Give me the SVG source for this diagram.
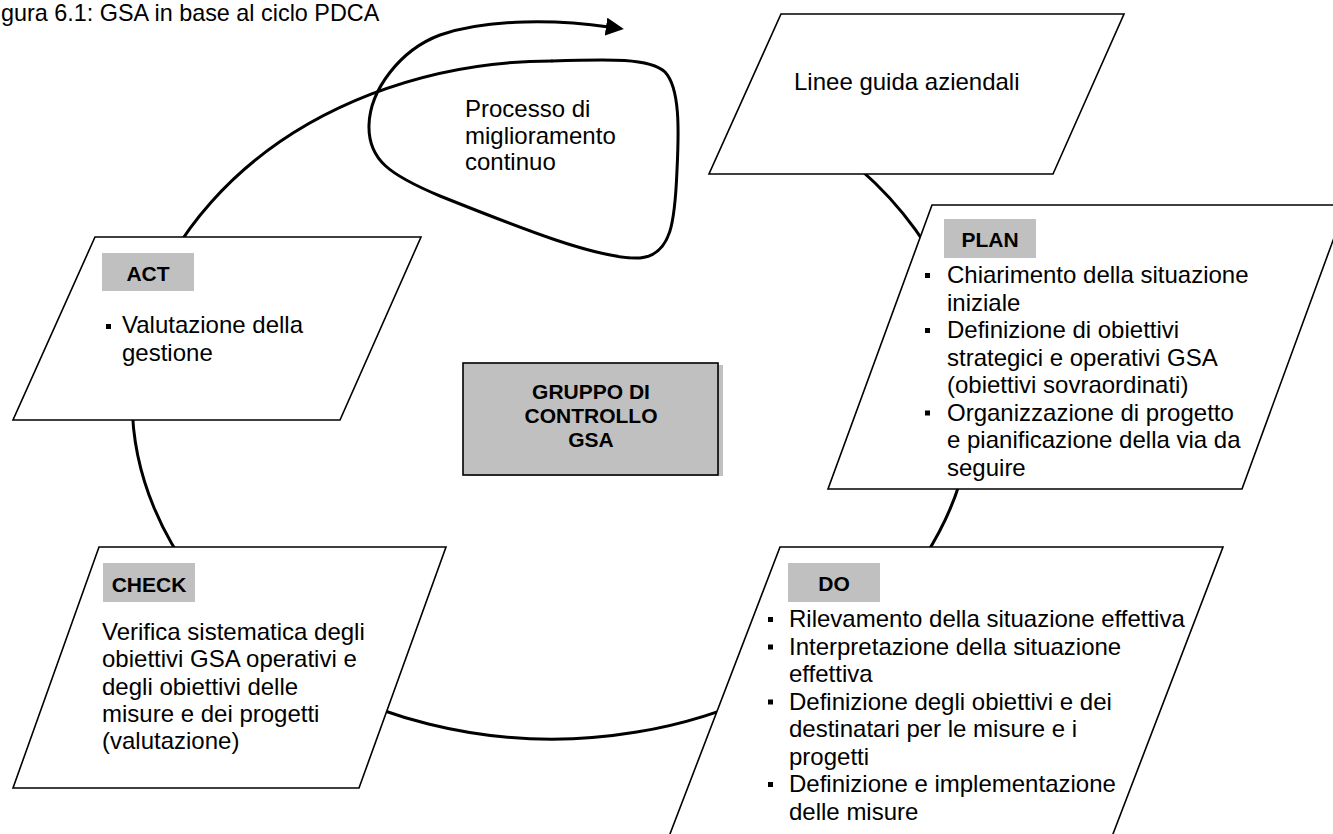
<svg xmlns="http://www.w3.org/2000/svg" width="1333" height="834" viewBox="0 0 1333 834">
<style>
.box{fill:#fff;stroke:#000;stroke-width:1.6;stroke-linejoin:miter}
.lab{fill:#c0c0c0;stroke:none}
.lt{font-family:"Liberation Sans",Arial,sans-serif;font-weight:bold;font-size:21px;fill:#000;text-anchor:middle}
.bt{font-family:"Liberation Sans",Arial,sans-serif;font-size:24px;fill:#000}
.bul{fill:#000}
.con{fill:none;stroke:#000;stroke-width:3;stroke-linecap:round}
</style>
<defs>
<marker id="ah" markerWidth="6" markerHeight="6" refX="1" refY="3" orient="auto" markerUnits="strokeWidth">
<path d="M0,0 L6,3 L0,6 Z" fill="#000"/>
</marker>
</defs>
<rect width="1333" height="834" fill="#fff"/>
<text x="1" y="21" font-family="Liberation Sans, Arial, sans-serif" font-size="23.4" fill="#000">gura 6.1: GSA in base al ciclo PDCA</text>

<g id="connectors">
<path class="con" d="M789,120 A420,339 0 1 1 552,61"/>
<path class="con" marker-end="url(#ah)" d="M552,61 C610,59 650,58 665,72 C680,88 679,130 677,170 C675,220 672,255 640,258 C600,260 520,228 440,196 C390,175 368,160 369,125 C370,90 400,50 440,35 C490,18 560,20 609,27"/>
</g>

<g id="loop-label">
<text class="bt" font-size="23.5" x="465" y="117">Processo di</text>
<text class="bt" font-size="23.5" x="465" y="144">miglioramento</text>
<text class="bt" font-size="23.5" x="465" y="170">continuo</text>
</g>

<g id="linee">
<polygon class="box" points="781,14 1124,14 1053,174 709,174"/>
<text class="bt" x="794" y="90">Linee guida aziendali</text>
</g>

<g id="plan">
<polygon class="box" points="932,205 1346,205 1242,489 828,489"/>
<rect class="lab" x="944" y="219" width="92" height="39"/>
<text class="lt" x="990" y="247">PLAN</text>
<rect class="bul" x="925" y="273" width="5" height="5"/>
<rect class="bul" x="925" y="328" width="5" height="5"/>
<rect class="bul" x="925" y="410.5" width="5" height="5"/>
<text class="bt" x="947" y="283">Chiarimento della situazione</text>
<text class="bt" x="947" y="310.5">iniziale</text>
<text class="bt" x="947" y="338">Definizione di obiettivi</text>
<text class="bt" x="947" y="365.5">strategici e operativi GSA</text>
<text class="bt" x="947" y="393">(obiettivi sovraordinati)</text>
<text class="bt" x="947" y="420.5">Organizzazione di progetto</text>
<text class="bt" x="947" y="448">e pianificazione della via da</text>
<text class="bt" x="947" y="475.5">seguire</text>
</g>

<g id="act">
<polygon class="box" points="95,237 421,237 340,420 13,420"/>
<rect class="lab" x="102" y="253" width="92" height="38"/>
<text class="lt" x="148" y="281">ACT</text>
<rect class="bul" x="106" y="324" width="5" height="5"/>
<text class="bt" x="122" y="333">Valutazione della</text>
<text class="bt" x="122" y="360.6">gestione</text>
</g>

<g id="center">
<rect x="468" y="365" width="255" height="111" fill="#c0c0c0"/>
<rect x="463" y="363" width="255" height="112" fill="#c0c0c0" stroke="#000" stroke-width="1.6"/>
<text class="lt" x="591" y="399">GRUPPO DI</text>
<text class="lt" x="591" y="423">CONTROLLO</text>
<text class="lt" x="591" y="447">GSA</text>
</g>

<g id="check">
<polygon class="box" points="99,547 446,547 359,788 13,788"/>
<rect class="lab" x="103" y="563" width="92" height="39"/>
<text class="lt" x="149" y="592">CHECK</text>
<text class="bt" x="102" y="640">Verifica sistematica degli</text>
<text class="bt" x="102" y="667.3">obiettivi GSA operativi e</text>
<text class="bt" x="102" y="694.6">degli obiettivi delle</text>
<text class="bt" x="102" y="721.9">misure e dei progetti</text>
<text class="bt" x="102" y="749.2">(valutazione)</text>
</g>

<g id="do">
<polygon class="box" points="780,547 1223,547 1103,860 660,860"/>
<rect class="lab" x="788" y="563" width="92" height="39"/>
<text class="lt" x="834" y="591">DO</text>
<rect class="bul" x="768" y="617" width="5" height="5"/>
<rect class="bul" x="768" y="644.5" width="5" height="5"/>
<rect class="bul" x="768" y="699.5" width="5" height="5"/>
<rect class="bul" x="768" y="782" width="5" height="5"/>
<text class="bt" x="789" y="627">Rilevamento della situazione effettiva</text>
<text class="bt" x="789" y="654.5">Interpretazione della situazione</text>
<text class="bt" x="789" y="682">effettiva</text>
<text class="bt" x="789" y="709.5">Definizione degli obiettivi e dei</text>
<text class="bt" x="789" y="737">destinatari per le misure e i</text>
<text class="bt" x="789" y="764.5">progetti</text>
<text class="bt" x="789" y="792">Definizione e implementazione</text>
<text class="bt" x="789" y="819.5">delle misure</text>
</g>
</svg>
